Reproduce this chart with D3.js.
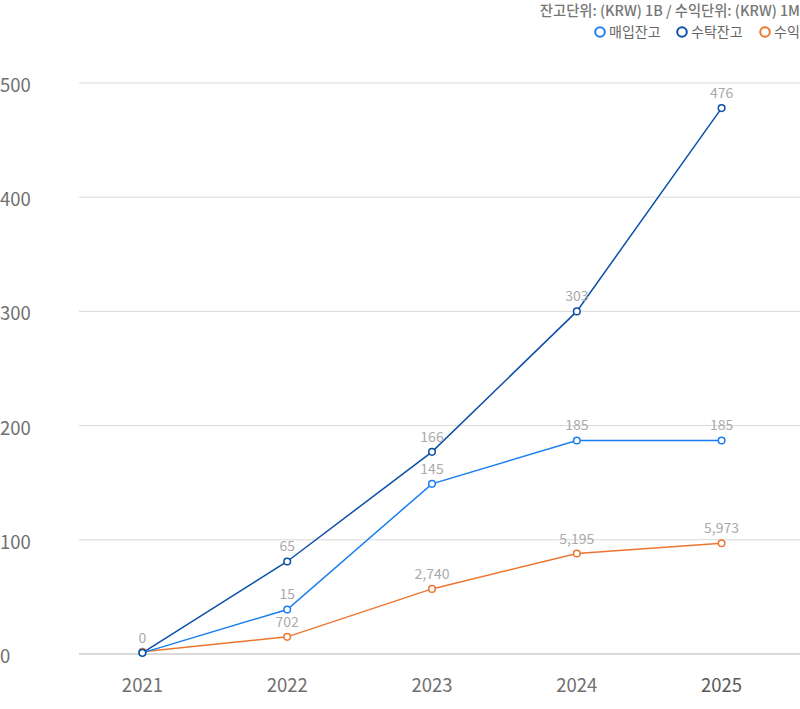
<!DOCTYPE html>
<html><head><meta charset="utf-8">
<script src="https://cdn.jsdelivr.net/npm/d3@7"></script>
<style>
html,body{margin:0;padding:0;background:#fff;}
svg{display:block;font-family:"Noto Sans CJK KR","Noto Sans",sans-serif;}
</style></head>
<body>
<svg id="chart" width="800" height="709"></svg>
<script>
const years = ["2021","2022","2023","2024","2025"];
const yTicks = [0,100,200,300,400,500];
// plotted positions (as drawn in the chart)
const purchaseValues = [1, 39, 149, 187, 187];
const custodyValues  = [1, 81, 177, 300, 478];
const revenueValues  = [2, 15, 57, 88, 97];
// value labels shown
const purchaseLabels = ["0","15","145","185","185"];
const custodyLabels  = ["0","65","166","303","476"];
const revenueLabels  = ["0","702","2,740","5,195","5,973"];
const seriesNames = ["매입잔고","수탁잔고","수익"];
const unitText = "잔고단위: (KRW) 1B / 수익단위: (KRW) 1M";

const colors = {"매입잔고":"#1a7ef2","수탁잔고":"#0c4fa8","수익":"#ec7630"};
const series = [
  {name:"매입잔고", values:purchaseValues, labels:purchaseLabels},
  {name:"수탁잔고", values:custodyValues, labels:custodyLabels},
  {name:"수익", values:revenueValues, labels:revenueLabels}
];
const drawOrder = [series[2], series[0], series[1]];

const svg = d3.select("#chart");
const x = d3.scalePoint().domain(years).range([70,794]).padding(0.5);
const y = d3.scaleLinear().domain([0,500]).range([654,83]);

// grid
svg.append("g").selectAll("line").data(yTicks).join("line")
  .attr("x1",79).attr("x2",800)
  .attr("y1",d=>y(d)).attr("y2",d=>y(d))
  .attr("stroke","#d9d9d9").attr("stroke-width",d=>d===0?2:1);

// y labels
svg.append("g").selectAll("text").data(yTicks).join("text")
  .attr("x",0).attr("y",d=>y(d)+1).attr("dominant-baseline","central")
  .attr("font-size",18.5).attr("fill","#707070").text(d=>d);

// x labels
svg.append("g").selectAll("text").data(years).join("text")
  .attr("x",d=>x(d)).attr("y",692).attr("text-anchor","middle")
  .attr("font-size",18.5).attr("fill",(d,i)=>i===years.length-1?"#5a5a5a":"#707070").text(d=>d);

const line = d3.line().x((d,i)=>x(years[i])).y(d=>y(d));

drawOrder.forEach(s=>{
  svg.append("path").datum(s.values).attr("d",line)
    .attr("fill","none").attr("stroke",colors[s.name]).attr("stroke-width",1.5);
});
drawOrder.forEach(s=>{
  svg.append("g").selectAll("circle").data(s.values).join("circle")
    .attr("cx",(d,i)=>x(years[i])).attr("cy",d=>y(d)).attr("r",3.3)
    .attr("fill","#fff").attr("stroke",colors[s.name]).attr("stroke-width",1.5);
});
// value labels (skip exact duplicates that would overprint at the same spot)
const seen = new Set();
series.forEach(s=>{
  s.values.forEach((v,i)=>{
    const key = years[i]+"|"+s.labels[i]+"|"+Math.round(y(v)/4);
    if(seen.has(key)) return;
    seen.add(key);
    svg.append("text")
      .attr("x",x(years[i])).attr("y",y(v)-10).attr("text-anchor","middle")
      .attr("font-size",14).attr("fill","#aaaaaa").text(s.labels[i]);
  });
});

// unit text
svg.append("text").attr("x",800).attr("y",16).attr("text-anchor","end")
  .attr("font-size",14.3).attr("font-weight",500).attr("fill","#777").text(unitText);

// legend
const legendX = [600,682,765];
const lg = svg.append("g");
seriesNames.forEach((n,i)=>{
  lg.append("circle").attr("cx",legendX[i]).attr("cy",32).attr("r",4.8)
    .attr("fill","#fff").attr("stroke",colors[n]).attr("stroke-width",2);
  lg.append("text").attr("x",legendX[i]+9).attr("y",37)
    .attr("font-size",14).attr("fill","#666").text(n);
});
</script>
</body></html>
